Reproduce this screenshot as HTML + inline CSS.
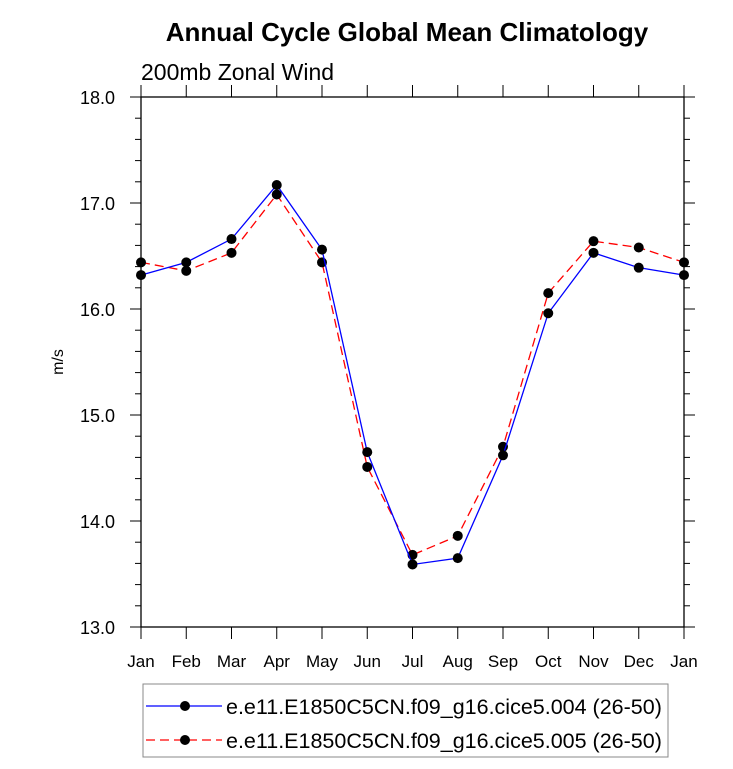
<!DOCTYPE html>
<html><head><meta charset="utf-8"><style>
body{margin:0;background:#fff;width:733px;height:764px;overflow:hidden}
text{font-family:"Liberation Sans",Arial,sans-serif}
</style></head><body>
<svg id="chart" width="733" height="764" xmlns="http://www.w3.org/2000/svg">
<text x="407" y="41" font-size="26" font-weight="bold" text-anchor="middle">Annual Cycle Global Mean Climatology</text>
<text x="141" y="80" font-size="23">200mb Zonal Wind</text>
<text transform="translate(63,362) rotate(-90)" font-size="16" text-anchor="middle">m/s</text>
<g id="axes"></g>
<g id="series"></g>
<g>
<rect x="143" y="684" width="525" height="73" fill="none" stroke="#888" stroke-width="1"/>
<line x1="146" y1="706" x2="222" y2="706" stroke="#0000ff" stroke-width="1.3"/>
<circle cx="185" cy="706" r="5" fill="#000"/>
<text x="226" y="714" font-size="21.5">e.e11.E1850C5CN.f09_g16.cice5.004 (26-50)</text>
<line x1="146" y1="740" x2="222" y2="740" stroke="#ff0000" stroke-width="1.3" stroke-dasharray="9,5"/>
<circle cx="185" cy="740" r="5" fill="#000"/>
<text x="226" y="748" font-size="21.5">e.e11.E1850C5CN.f09_g16.cice5.005 (26-50)</text>
</g>
</svg>
<script>
const months=["Jan","Feb","Mar","Apr","May","Jun","Jul","Aug","Sep","Oct","Nov","Dec","Jan"];
const run004=[16.32,16.44,16.66,17.17,16.56,14.65,13.59,13.65,14.62,15.96,16.53,16.39,16.32];
const run005=[16.44,16.36,16.53,17.08,16.44,14.51,13.68,13.86,14.70,16.15,16.64,16.58,16.44];
const yTicks=[13,14,15,16,17,18];
const L=141,R=684,T=97,B=627,yMin=13,yMax=18;
const NS="http://www.w3.org/2000/svg";
const xs=i=>L+(R-L)*i/(months.length-1);
const ys=v=>B-(v-yMin)/(yMax-yMin)*(B-T);
function mk(tag,attrs,parent){const e=document.createElementNS(NS,tag);for(const k in attrs)e.setAttribute(k,attrs[k]);parent.appendChild(e);return e;}
const ax=document.getElementById('axes');
const frame=mk('rect',{x:L,y:T,width:R-L,height:B-T,fill:'none',stroke:'#000','stroke-width':1.3},ax);


months.forEach((m,i)=>{
  const x=xs(i);
  mk('line',{x1:x,y1:B,x2:x,y2:B+12,stroke:'#000','stroke-width':1},ax);
  mk('line',{x1:x,y1:T,x2:x,y2:T-12,stroke:'#000','stroke-width':1},ax);
  const t=mk('text',{x:x,y:B+40,'font-size':17,'text-anchor':'middle'},ax);
  t.textContent=m;
  
  
});
for(let v=yMin;v<=yMax+1e-9;v+=0.2){
  const y=ys(v);const major=Math.abs(v-Math.round(v))<1e-6;const len=major?11:6;
  mk('line',{x1:L-len,y1:y,x2:L,y2:y,stroke:'#000','stroke-width':1},ax);
  mk('line',{x1:R,y1:y,x2:R+len,y2:y,stroke:'#000','stroke-width':1},ax);
}
yTicks.forEach(v=>{
  const t=mk('text',{x:L-26,y:ys(v)+7,'font-size':18,'text-anchor':'end'},ax);
  t.textContent=v.toFixed(1);
  
  
});
const sg=document.getElementById('series');
function draw(vals,color,dash,name){
  const pts=vals.map((v,i)=>xs(i)+','+ys(v)).join(' ');
  const pl=mk('polyline',{points:pts,fill:'none',stroke:color,'stroke-width':1.3},sg);
  if(dash)pl.setAttribute('stroke-dasharray',dash);
  
  
  vals.forEach((v,i)=>{
    const c=mk('circle',{cx:xs(i),cy:ys(v),r:5,fill:'#000'},sg);
    
    
  });
}
draw(run005,'#ff0000','9,5','run-005');
draw(run004,'#0000ff',null,'run-004');
</script>
</body></html>
